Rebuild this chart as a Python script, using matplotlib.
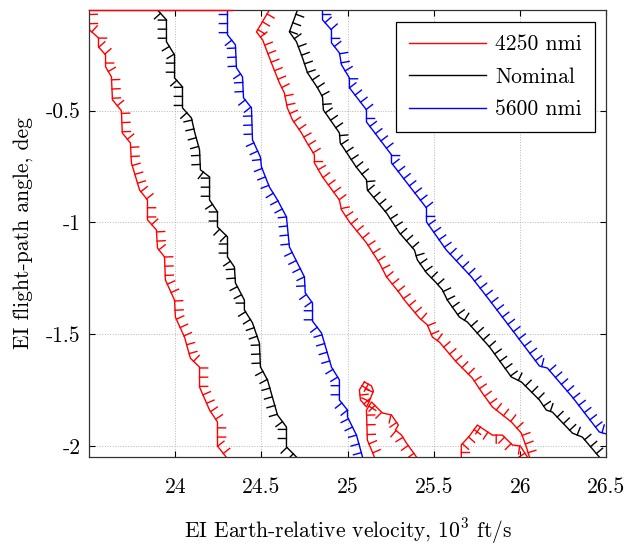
import matplotlib
matplotlib.use('Agg')
import matplotlib.pyplot as plt
from matplotlib import patheffects
from matplotlib.lines import Line2D

# Fonts (LaTeX look)
plt.rcParams['font.family'] = 'serif'
plt.rcParams['font.serif'] = ['cmr10']
plt.rcParams['mathtext.fontset'] = 'cm'
plt.rcParams['axes.unicode_minus'] = False
plt.rcParams['axes.formatter.use_mathtext'] = True

# Boundary curves: (velocity [10^3 ft/s], flight-path angle [deg])
red_left_x = [23.500, 23.503, 23.555, 23.555, 23.596, 23.596, 23.630, 23.636, 23.688, 23.693,
              23.740, 23.746, 23.793, 23.839, 23.839, 23.891, 23.897, 23.938, 23.943, 23.996,
              24.001, 24.054, 24.088, 24.141, 24.141, 24.199, 24.245, 24.245, 24.295]
red_left_y = [-0.05, -0.139, -0.175, -0.215, -0.251, -0.304, -0.349, -0.452, -0.501, -0.600,
              -0.645, -0.734, -0.855, -0.900, -0.989, -1.034, -1.115, -1.155, -1.258, -1.348,
              -1.424, -1.514, -1.608, -1.648, -1.737, -1.840, -1.893, -2.001, -2.05]

red_top_x = [23.5, 24.33]
red_top_y = [-0.05, -0.05]

red_right_x = [24.546, 24.471, 24.507, 24.558, 24.604, 24.633, 24.650, 24.680, 24.732, 24.761,
               24.807, 24.807, 24.854, 24.952, 24.964, 25.010, 25.109, 25.184, 25.225, 25.300,
               25.329, 25.416, 25.462, 25.491, 25.532, 25.630, 25.723, 25.781, 25.839, 25.949,
               26.007, 26.036, 26.054]
red_right_y = [-0.05, -0.148, -0.184, -0.287, -0.376, -0.421, -0.488, -0.542, -0.600, -0.640,
               -0.698, -0.734, -0.797, -0.900, -0.944, -0.998, -1.092, -1.182, -1.244, -1.316,
               -1.348, -1.428, -1.459, -1.513, -1.536, -1.625, -1.697, -1.764, -1.826, -1.893,
               -1.943, -2.005, -2.05]

# small red islands near the bottom
red_isl1_x = [25.097, 25.138, 25.149, 25.126, 25.109, 25.074, 25.068, 25.097]
red_isl1_y = [-1.714, -1.732, -1.755, -1.799, -1.826, -1.795, -1.750, -1.714]
red_isl2_x = [25.155, 25.114, 25.109, 25.138, 25.201, 25.254, 25.294, 25.277, 25.312, 25.341, 25.399]
red_isl2_y = [-2.05, -1.974, -1.840, -1.804, -1.853, -1.862, -1.907, -1.929, -1.952, -1.988, -2.05]
red_isl3_x = [25.659, 25.659, 25.706, 25.752, 25.804, 25.839, 25.897, 25.955, 26.001, 26.042]
red_isl3_y = [-2.05, -1.996, -1.956, -1.907, -1.934, -1.952, -1.952, -1.996, -2.001, -2.05]

black_left_x = [23.897, 23.949, 23.949, 23.996, 23.996, 24.042, 24.042, 24.094, 24.112, 24.141,
                24.146, 24.199, 24.199, 24.245, 24.245, 24.303, 24.303, 24.343, 24.349, 24.401,
                24.401, 24.448, 24.488, 24.494, 24.535, 24.593, 24.645, 24.645, 24.703]
black_left_y = [-0.05, -0.094, -0.192, -0.251, -0.354, -0.394, -0.488, -0.533, -0.595, -0.676,
                -0.765, -0.797, -0.900, -0.953, -1.021, -1.065, -1.155, -1.200, -1.271, -1.348,
                -1.392, -1.450, -1.540, -1.647, -1.705, -1.862, -1.916, -2.005, -2.05]

black_right_x = [24.709, 24.662, 24.703, 24.738, 24.767, 24.825, 24.854, 24.859, 24.952, 24.957,
                 25.049, 25.109, 25.114, 25.225, 25.300, 25.387, 25.404, 25.457, 25.514, 25.549,
                 25.578, 25.648, 25.694, 25.823, 25.949, 26.007, 26.112, 26.152, 26.187, 26.286,
                 26.303, 26.361, 26.459]
black_right_y = [-0.05, -0.148, -0.192, -0.264, -0.331, -0.398, -0.439, -0.497, -0.600, -0.645,
                 -0.752, -0.810, -0.855, -0.958, -1.047, -1.124, -1.168, -1.226, -1.271, -1.302,
                 -1.348, -1.424, -1.446, -1.558, -1.692, -1.714, -1.795, -1.840, -1.849, -1.929,
                 -1.943, -1.961, -2.05]

blue_left_x = [24.303, 24.303, 24.349, 24.355, 24.390, 24.396, 24.442, 24.448, 24.494, 24.500,
               24.546, 24.593, 24.645, 24.662, 24.691, 24.749, 24.754, 24.796, 24.796, 24.848,
               24.906, 24.952, 24.952, 24.999, 24.999, 25.051, 25.086]
blue_left_y = [-0.05, -0.161, -0.206, -0.309, -0.349, -0.443, -0.488, -0.631, -0.708, -0.752,
               -0.842, -0.900, -0.976, -1.110, -1.155, -1.244, -1.316, -1.361, -1.442, -1.495,
               -1.648, -1.705, -1.795, -1.840, -1.871, -1.952, -2.05]

blue_right_x = [24.854, 24.854, 24.906, 24.906, 24.952, 24.964, 25.010, 25.010, 25.109, 25.109,
                25.254, 25.254, 25.457, 25.457, 25.572, 25.717, 25.822, 25.967, 26.112, 26.158,
                26.303, 26.459, 26.5]
blue_right_y = [-0.05, -0.094, -0.139, -0.197, -0.242, -0.295, -0.354, -0.398, -0.497, -0.551,
                -0.698, -0.734, -0.936, -0.998, -1.124, -1.244, -1.348, -1.495, -1.643, -1.652,
                -1.782, -1.938, -1.947]

labels = ['4250 nmi', 'Nominal', '5600 nmi']
colors = ['#ff0000', '#000000', '#0000ff']

xticks = [24, 24.5, 25, 25.5, 26, 26.5]
xticklabels = ['24', '24.5', '25', '25.5', '26', '26.5']
yticks = [-2, -1.5, -1, -0.5]
yticklabels = ['-2', '-1.5', '-1', '-0.5']

fs = 15.5

fig = plt.figure(figsize=(6.29, 5.46), dpi=100)
ax = fig.add_axes([0.1415, 0.163, 0.8225, 0.8187])

# (x, y, colour, side of the hatch marks)
curves = [
    (red_left_x, red_left_y, colors[0], 90),
    (red_right_x, red_right_y, colors[0], 90),
    (red_isl1_x, red_isl1_y, colors[0], -90),
    (red_isl2_x, red_isl2_y, colors[0], -90),
    (red_isl3_x, red_isl3_y, colors[0], -90),
    (black_left_x, black_left_y, colors[1], -90),
    (black_right_x, black_right_y, colors[1], 90),
    (blue_left_x, blue_left_y, colors[2], -90),
    (blue_right_x, blue_right_y, colors[2], 90),
]
for x, y, c, ang in curves:
    ax.plot(x, y, color=c, lw=1.0,
            path_effects=[patheffects.withTickedStroke(angle=ang, spacing=6.5, length=0.9)])

ax.plot(red_top_x, red_top_y, color=colors[0], lw=1.0, zorder=3, clip_on=False)

# Axes
ax.set_xlim(23.5, 26.5)
ax.set_ylim(-2.05, -0.05)
ax.set_xticks(xticks)
ax.set_xticklabels(xticklabels)
ax.set_yticks(yticks)
ax.set_yticklabels(yticklabels)
ax.tick_params(direction='in', top=True, right=True, length=4, width=0.8, labelsize=fs)
ax.tick_params(axis='x', pad=15)
ax.tick_params(axis='y', pad=6)
ax.grid(True, linestyle=':', color='#b5b5b5', lw=0.7)
for s in ax.spines.values():
    s.set_linewidth(0.9)
    s.set_color('#333333')

ax.set_xlabel(r'EI Earth-relative velocity, $10^3$ ft/s', fontsize=fs)
ax.set_ylabel('EI flight-path angle, deg', fontsize=fs)
ax.xaxis.set_label_coords(0.5, -0.132)
ax.yaxis.set_label_coords(-0.108, 0.5)

# Legend
handles = [Line2D([], [], color=c, lw=1.0) for c in colors]
leg = ax.legend(handles, labels, loc='upper right', fontsize=fs, fancybox=False,
                edgecolor='black', framealpha=1, handlelength=3.6, handletextpad=0.4,
                labelspacing=0.6, borderpad=0.6, borderaxespad=0.55)
leg.get_frame().set_linewidth(0.9)

plt.savefig('out.png', dpi=100)
